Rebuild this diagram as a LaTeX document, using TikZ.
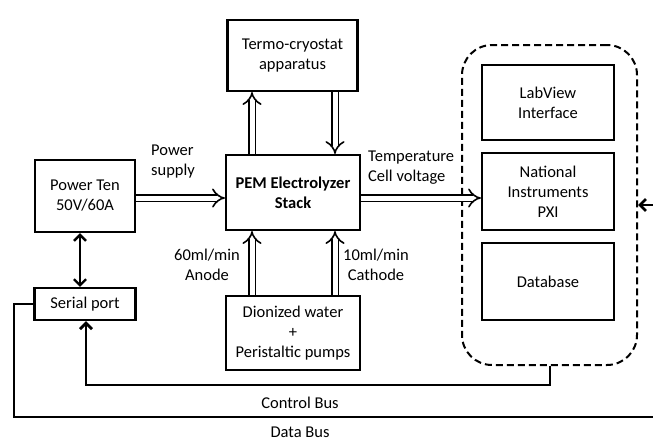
\documentclass[tikz,border=0pt]{standalone}
\usepackage{fontspec}
\setmainfont{Carlito}
\usetikzlibrary{arrows.meta}
\begin{document}
\begin{tikzpicture}[x=1pt,y=-1pt,
  font=\fontsize{16.5}{20}\selectfont,
  box/.style={draw, line width=2.2pt, align=center, inner sep=2pt},
  flow/.style={draw, line width=1.6pt, double distance=5pt, -{Implies[length=8pt]}},
  bus/.style={draw, line width=2.8pt, line cap=butt},
  barb/.tip={Straight Barb[length=6pt,width=12pt]},
  lbl/.style={align=left, inner sep=0pt}]
\useasboundingbox (0,0) rectangle (653,440);

% Main blocks
\node (termo) [box, minimum width=130, minimum height=71] at (292.5,55.5) {Termo-cryostat\\apparatus};
\node (pem)   [box, minimum width=134, minimum height=75] at (293,192.5) {\textbf{PEM Electrolyzer}\\\textbf{Stack}};
\node (dion)  [box, minimum width=134, minimum height=74] at (293,333) {Dionized water\\+\\Peristaltic pumps};
\node (power) [box, minimum width=100, minimum height=72] at (85,196) {Power Ten\\50V/60A};
\node (serial)[box, minimum width=101, minimum height=32] at (85,304) {Serial port};

% Acquisition system
\node (sys) [draw, dash pattern=on 7pt off 4pt, line width=2pt, rounded corners=30pt, minimum width=175, minimum height=320] at (549.5,205) {};
\node (lab) [box, minimum width=132, minimum height=75] at (548,102.5) {LabView\\Interface};
\node (ni)  [box, minimum width=132, minimum height=77] at (548,191.5) {National\\Instruments\\PXI};
\node (db)  [box, minimum width=132, minimum height=77] at (548,281.5) {Database};

% Fluid / power flows
\draw[flow] (pem.north -| 252,0) -- (termo.south -| 252,0);
\draw[flow] (termo.south -| 335,0) -- (pem.north -| 335,0);
\draw[flow] (dion.north -| 252,0) -- (pem.south -| 252,0);
\draw[flow] (dion.north -| 335,0) -- (pem.south -| 335,0);
\draw[flow] (power.east |- 0,198) -- (pem.west |- 0,198);
\draw[flow] (pem.east |- 0,198) -- (ni.west |- 0,198);

% Power supply to serial port
\draw[line width=2.4pt, barb-barb] (power.south -| 80,0) -- (serial.north -| 80,0);

% Buses
\coordinate (cb1) at (550,385);
\coordinate (cb2) at (86,385);
\draw[bus, -barb] (sys.south -| 550,0) -- (cb1) -- (cb2) -- (serial.south -| 86,0);
\coordinate (db1) at (14,304);
\coordinate (db2) at (14,417);
\coordinate (db3) at (665,417);
\coordinate (db4) at (665,205);
\draw[bus, -barb] (serial.west) -- (db1) -- (db2) -- (db3) -- (db4) -- (sys.east);

% Labels
\node (lps) [lbl, anchor=north west] at (151,145) {Power\\supply};
\node (ltc) [lbl, anchor=north west] at (368,151) {Temperature\\Cell voltage};
\node (lan) [lbl, align=center] at (207,265) {60ml/min\\Anode};
\node (lca) [lbl, align=center] at (376,265) {10ml/min\\Cathode};
\node (lcb) [lbl] at (300,403) {Control Bus};
\node (ldb) [lbl] at (300,432) {Data Bus};
\end{tikzpicture}
\end{document}
